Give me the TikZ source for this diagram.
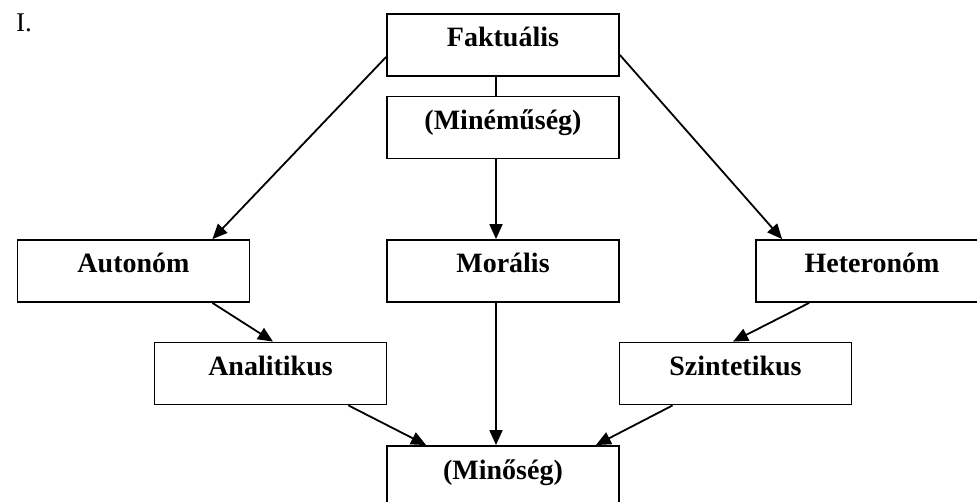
\documentclass[tikz,border=0pt]{standalone}
\usepackage{fontspec}
\setmainfont{Liberation Serif}
\usetikzlibrary{arrows.meta}

\tikzset{
  box/.style={draw, minimum width=232pt, minimum height=62pt,
    inner sep=0pt, text height=18pt, text depth=14pt,
    font=\fontsize{28}{32}\selectfont\bfseries},
}

\begin{document}
\begin{tikzpicture}[x=1pt,y=-1pt,>={Triangle[length=15pt,width=13pt]},line width=1.8pt]

    \clip (0,0) rectangle (977,502);
    \useasboundingbox (0,0) rectangle (977,502);

    \node [anchor=base west, font=\fontsize{27}{30}\selectfont] (num) at (12,32) {I.};

    \node [box] (fakt) at (503, 45) {Faktuális};
    \node [box] (minem) at (503, 127.5) {(Minéműség)};
    \node [box] (auton) at (133.5, 271) {Autonóm};
    \node [box] (moral) at (503, 271) {Morális};
    \node [box] (heter) at (872, 271) {Heteronóm};
    \node [box] (anal) at (270.5, 373.5) {Analitikus};
    \node [box] (szint) at (735.5, 373.5) {Szintetikus};
    \node [box] (minos) at (503, 477) {(Minőség)};

    \draw ([xshift=-7pt]fakt.south) -- ([xshift=-7pt]minem.north);
    \draw [->] ([xshift=-7pt]minem.south) -- ([xshift=-7pt]moral.north);
    \draw [->] ([yshift=-12pt]fakt.west) -- ([xshift=-38pt]auton.north east);
    \draw [->] ([yshift=-10pt]fakt.east) -- ([xshift=27pt]heter.north west);

    \draw [->] ([xshift=-38pt]auton.south east) -- ([xshift=2.5pt]anal.north);
    \draw [->] ([xshift=54pt]heter.south west) -- ([xshift=-2.5pt]szint.north);

    \draw [->] ([xshift=-39pt]anal.south east) -- ([xshift=40pt]minos.north west);
    \draw [->] ([xshift=-7pt]moral.south) -- ([xshift=-7pt]minos.north);
    \draw [->] ([xshift=54pt]szint.south west) -- ([xshift=-24pt]minos.north east);

\end{tikzpicture}
\end{document}
